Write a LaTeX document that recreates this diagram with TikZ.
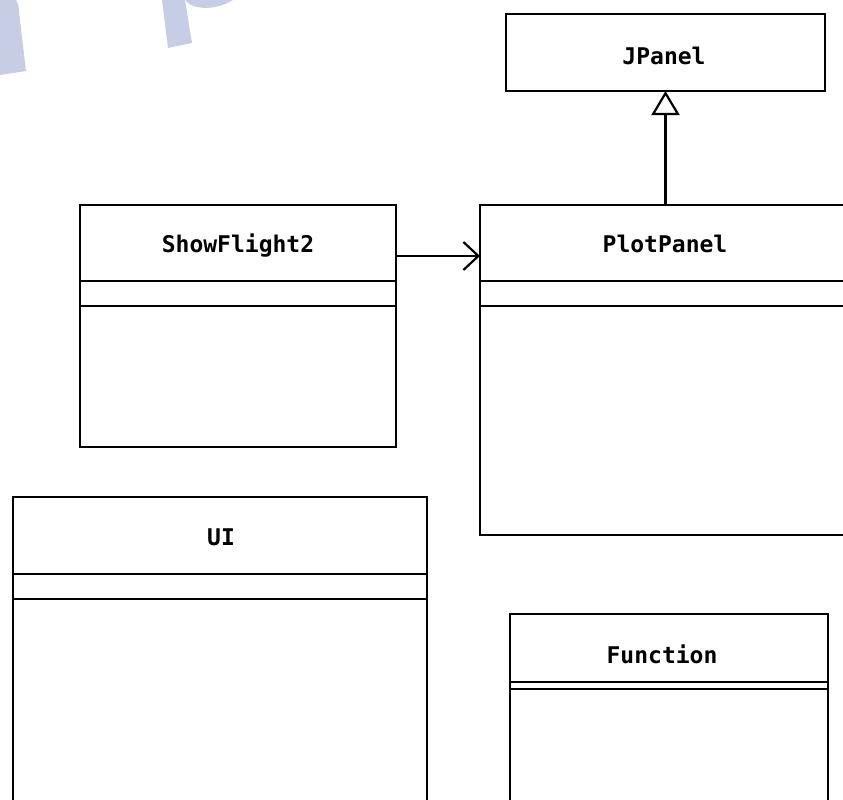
\documentclass[tikz,border=0pt]{standalone}
\usepackage{fontspec}
\setmonofont{DejaVu Sans Mono}
\usetikzlibrary{arrows.meta}

\definecolor{wmark}{RGB}{200,205,230}
\tikzset{every picture/.style={line width=2.6pt}}
\tikzset{
classbox/.style={draw, inner sep=0pt, outer sep=0pt, anchor=north west},
classname/.style={anchor=base, inner sep=0pt, font=\ttfamily\bfseries\fontsize{23}{28}\selectfont},
inherits/.style={-{Triangle[open, length=24pt, width=28pt, line width=2.2pt]}},
assoc/.style={-{Straight Barb[length=15pt, width=28pt, line width=2.2pt]}}}

\begin{document}
\begin{tikzpicture}[x=1pt,y=1pt,yscale=-1,xscale=1]
\useasboundingbox (0,0) rectangle (843,800);
\clip (0,0) rectangle (843,800);

%Shape: watermark letters
\fill [wmark] (0,0) -- (16,0) .. controls (18,3) and (19,6) .. (19,12) -- (26,71) -- (0,75) -- cycle ;
\fill [wmark] (162,0) -- (185,0) -- (192,43) -- (168,48) -- cycle ;
\fill [wmark] (185,0) -- (188,3) .. controls (195,9) and (215,11) .. (233,0) -- cycle ;

%Class: JPanel
\node [classbox, minimum width=319pt, minimum height=77pt] (jp) at (506,14) {};
%Class: PlotPanel
\node [classbox, minimum width=370pt, minimum height=330pt] (pp) at (480,205) {};
\draw ([yshift=76pt]pp.north west) -- ([yshift=76pt]pp.north east) ;
\draw ([yshift=101pt]pp.north west) -- ([yshift=101pt]pp.north east) ;
%Class: ShowFlight2
\node [classbox, minimum width=316pt, minimum height=242pt] (sf) at (80,205) {};
\draw ([yshift=76pt]sf.north west) -- ([yshift=76pt]sf.north east) ;
\draw ([yshift=101pt]sf.north west) -- ([yshift=101pt]sf.north east) ;
%Class: UI
\node [classbox, minimum width=414pt, minimum height=320pt] (ui) at (13,497) {};
\draw ([yshift=77pt]ui.north west) -- ([yshift=77pt]ui.north east) ;
\draw ([yshift=102pt]ui.north west) -- ([yshift=102pt]ui.north east) ;
%Class: Function
\node [classbox, minimum width=318pt, minimum height=200pt] (fn) at (510,614) {};
\draw ([yshift=68pt]fn.north west) -- ([yshift=68pt]fn.north east) ;
\draw ([yshift=75pt]fn.north west) -- ([yshift=75pt]fn.north east) ;

%Straight Lines: generalization
\draw [inherits] (pp.north -| jp.south) -- (jp.south) ;
%Straight Lines: association
\draw [assoc] ([yshift=51pt]sf.north east) -- ([yshift=51pt]pp.north west) ;

% Text Node
\node [classname] (jpname) at (664,65) {JPanel};
% Text Node
\node [classname] (ppname) at (665,252) {PlotPanel};
% Text Node
\node [classname] (sfname) at (238,252) {ShowFlight2};
% Text Node
\node [classname] (uiname) at (221,545) {UI};
% Text Node
\node [classname] (fnname) at (662,663) {Function};

\end{tikzpicture}
\end{document}
